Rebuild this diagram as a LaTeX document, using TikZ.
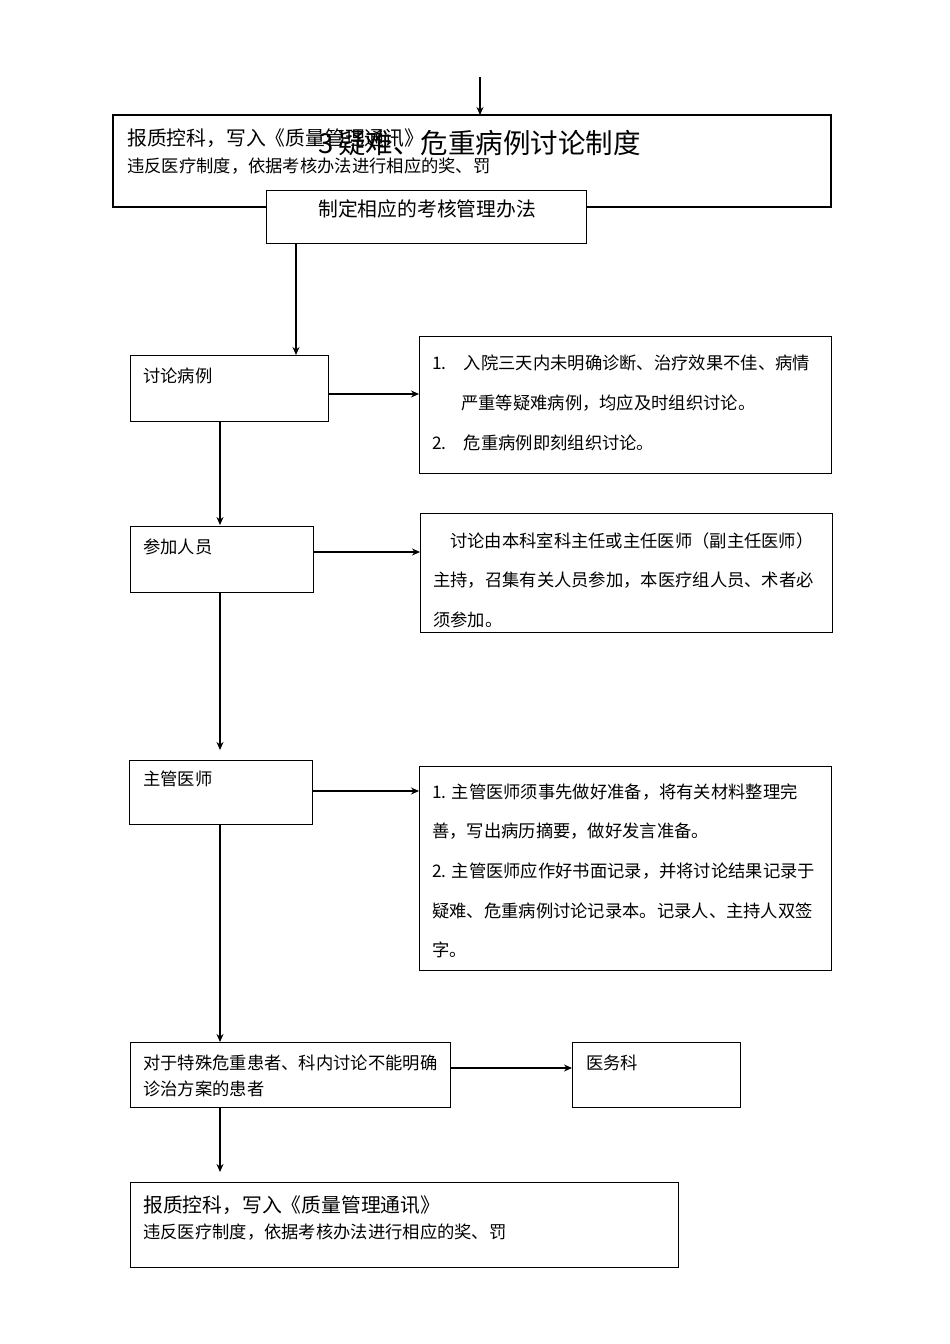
\documentclass[tikz,border=0pt]{standalone}
\usepackage{fontspec}
\setmainfont{Noto Sans CJK SC}
\tikzset{bx/.style={draw,line width=1.2pt},
 ar/.style={-{Stealth[length=8pt,width=7pt]},line width=1.2pt},
 tx/.style={anchor=west,inner sep=0pt,font=\fontsize{17.3}{17}\selectfont},
 tl/.style={anchor=west,inner sep=0pt,font=\fontsize{19.8}{20}\selectfont}}
\usetikzlibrary{arrows.meta}
\begin{document}
\begin{tikzpicture}[x=1pt,y=-1pt]
\useasboundingbox[fill=white] (0,0) rectangle (950,1344);
\draw[bx] (113,115) rectangle (831,207);
\node[tl] (t1) at (127,138) {报质控科，写入《质量管理通讯》};
\node[tx] (t2) at (127,166) {违反医疗制度，依据考核办法进行相应的奖、罚};
\node[anchor=west,inner sep=0pt,font=\fontsize{27.5}{28}\selectfont] (title) at (318,143) {3\,疑难、危重病例讨论制度};
\node[bx,fill=white,minimum width=320pt,minimum height=53pt,anchor=north west,inner sep=0pt] (b2) at (266,190) {};
\node[tl] at (318,209) {制定相应的考核管理办法};
\coordinate (top) at (480,77);
\draw[ar] (top) -- (480,115);
\node[bx,minimum width=198pt,minimum height=66pt,anchor=north west] (a1) at (130,355) {};
\node[tx] at (143,376) {讨论病例};
\node[bx,minimum width=412pt,minimum height=137pt,anchor=north west] (r1) at (419,336) {};
\node[tx] at (432,363) {1.\quad 入院三天内未明确诊断、治疗效果不佳、病情};
\node[tx] at (461,403) {严重等疑难病例，均应及时组织讨论。};
\node[tx] at (432,443) {2.\quad 危重病例即刻组织讨论。};
\node[bx,minimum width=183pt,minimum height=66pt,anchor=north west] (a2) at (130,526) {};
\node[tx] at (143,547) {参加人员};
\node[bx,minimum width=412pt,minimum height=119pt,anchor=north west] (r2) at (420,513) {};
\node[tx] at (450,541) {讨论由本科室科主任或主任医师（副主任医师）};
\node[tx] at (433,580) {主持，召集有关人员参加，本医疗组人员、术者必};
\node[tx] at (433,620) {须参加。};
\node[bx,minimum width=183pt,minimum height=64pt,anchor=north west] (a3) at (129,760) {};
\node[tx] at (143,779) {主管医师};
\node[bx,minimum width=412pt,minimum height=204pt,anchor=north west] (r3) at (419,766) {};
\node[tx] at (432,792) {1. 主管医师须事先做好准备，将有关材料整理完};
\node[tx] at (432,831) {善，写出病历摘要，做好发言准备。};
\node[tx] at (432,871) {2. 主管医师应作好书面记录，并将讨论结果记录于};
\node[tx] at (432,911) {疑难、危重病例讨论记录本。记录人、主持人双签};
\node[tx] at (432,950) {字。};
\node[bx,minimum width=320pt,minimum height=65pt,anchor=north west] (a4) at (130,1042) {};
\node[tx] at (143,1063) {对于特殊危重患者、科内讨论不能明确};
\node[tx] at (143,1089) {诊治方案的患者};
\node[bx,minimum width=168pt,minimum height=65pt,anchor=north west] (y) at (572,1042) {};
\node[tx] at (586,1063) {医务科};
\node[bx,minimum width=548pt,minimum height=85pt,anchor=north west] (a5) at (130,1182) {};
\node[tl] at (143,1205) {报质控科，写入《质量管理通讯》};
\node[tx] at (143,1232) {违反医疗制度，依据考核办法进行相应的奖、罚};
\draw[ar] (b2.south -| 296,0) -- (a1.north -| 296,0);
\draw[ar] (a1.east |- 0,394) -- (r1.west |- 0,394);
\draw[ar] (a1.south -| 220,0) -- (220,525);
\draw[ar] (a2.east |- 0,552) -- (r2.west |- 0,552);
\draw[ar] (a2.south -| 220,0) -- (220,750);
\draw[ar] (a3.east |- 0,791) -- (r3.west |- 0,791);
\draw[ar] (a3.south -| 220,0) -- (a4.north -| 220,0);
\draw[ar] (a4.east |- 0,1068) -- (y.west |- 0,1068);
\draw[ar] (a4.south -| 220,0) -- (220,1172);
\end{tikzpicture}
\end{document}
